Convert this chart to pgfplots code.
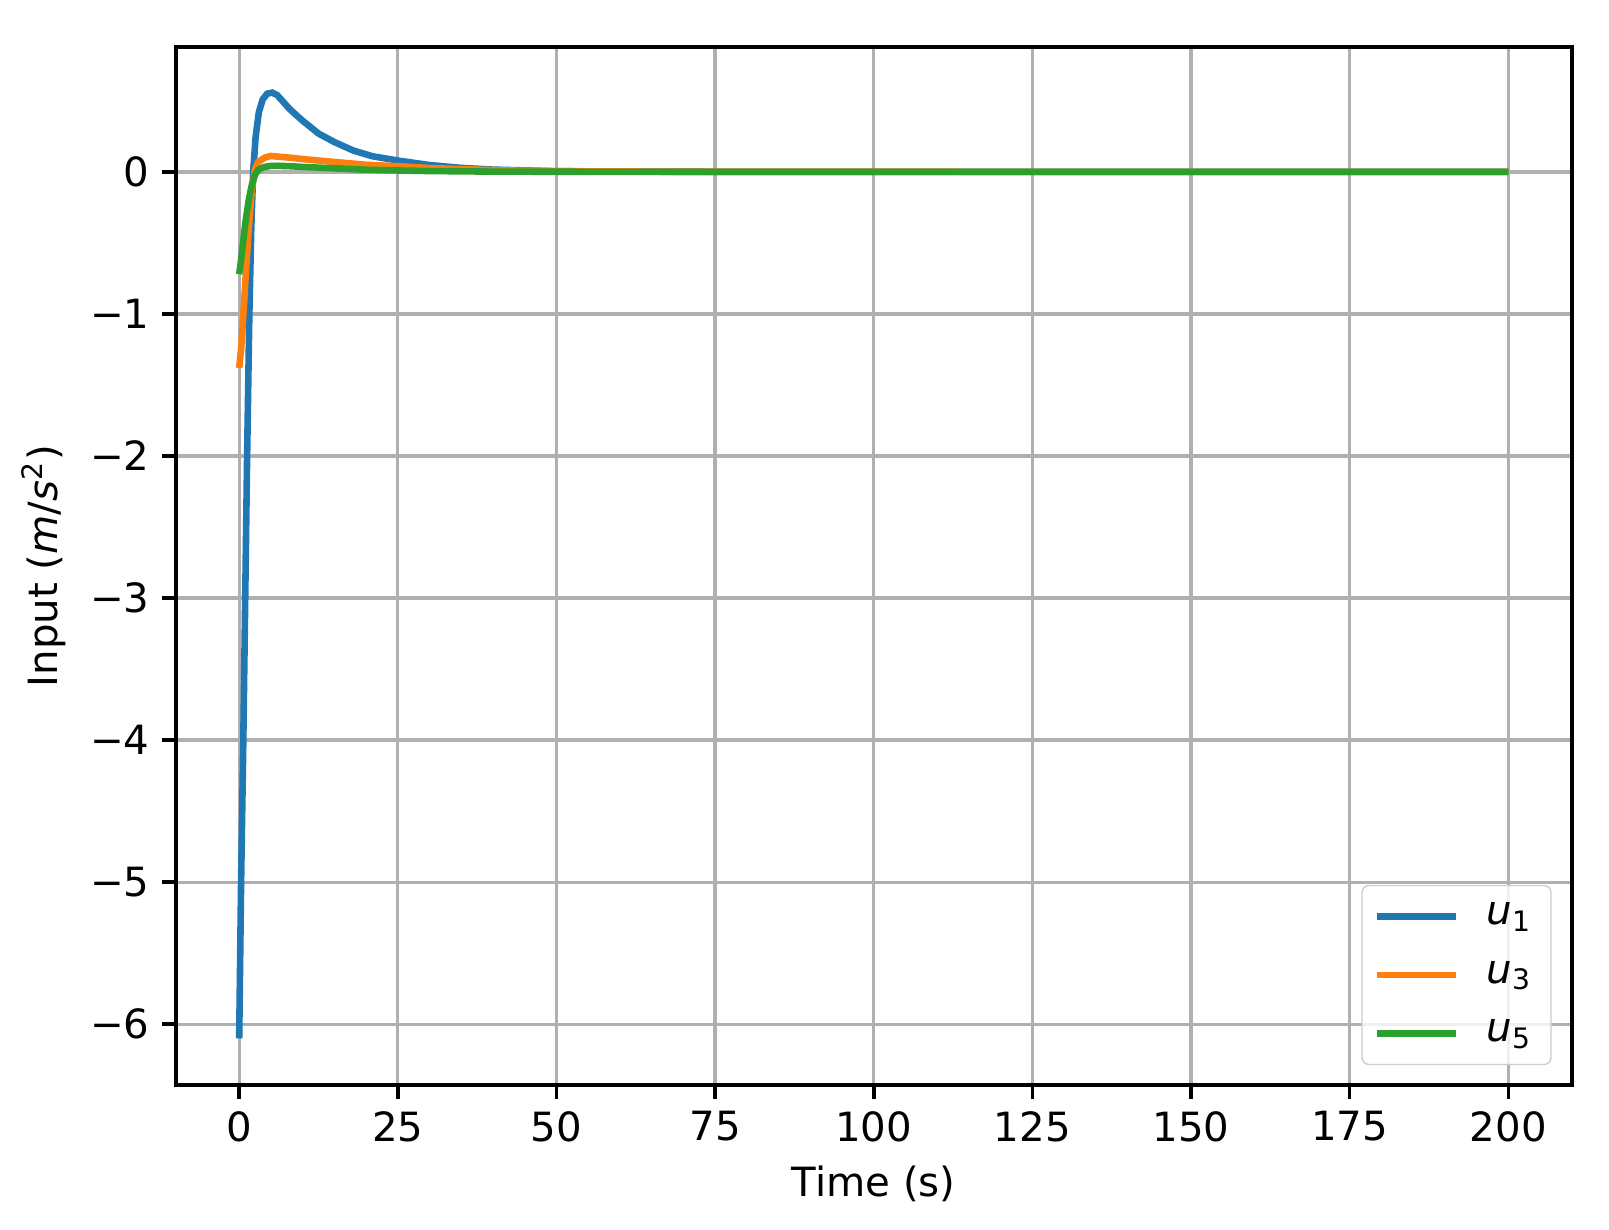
\documentclass[border=0pt]{standalone}
\usepackage{pgfplots}
\pgfplotsset{compat=1.18}
\usetikzlibrary{calc}
\usepackage{fontspec}
\setmainfont{DejaVu Sans}

\definecolor{c0}{HTML}{1F77B4}
\definecolor{c1}{HTML}{FF7F0E}
\definecolor{c2}{HTML}{2CA02C}
\definecolor{gridgray}{HTML}{B0B0B0}

\begin{document}
\begin{tikzpicture}
\begin{axis}[
    scale only axis,
    width=402pt,
    height=299pt,
    xmin=-10, xmax=210,
    ymin=-6.43, ymax=0.88,
    xtick={0,25,...,200},
    ytick={-6,-5,-4,-3,-2,-1,0},
    yticklabels={−6,−5,−4,−3,−2,−1,0},
    /pgf/number format/assume math mode=true,
    tick align=outside,
    tick pos=left,
    major tick length=4pt,
    tick style={black, line width=1pt},
    axis line style={line width=1.2pt},
    grid=major,
    major grid style={gridgray, line width=0.95pt},
    tick label style={font=\fontsize{11.6}{14}\selectfont},
    label style={font=\fontsize{11.6}{14}\selectfont},
    xlabel={Time (s)},
    ylabel={Input (\textit{m}/\textit{s}\textsuperscript{2})},
    legend cell align=left,
    legend style={
        at={(1,0)}, anchor=south east,
        xshift=-5.8pt, yshift=5.8pt,
        draw=black!20, rounded corners=2pt,
        fill=white, fill opacity=0.8, text opacity=1,
        font=\fontsize{11.6}{14}\selectfont,
        row sep=5pt, column sep=6pt,
        inner xsep=3.5pt, inner ysep=3pt
    },
    legend image code/.code={\draw[#1] (0pt,0pt) -- (22.5pt,0pt);},
]

% u1
\addplot[c0, line width=1.9pt] coordinates {
    (0,-6.1) (0.3,-5.0) (0.65,-4.0) (0.95,-3.0) (1.25,-2.0) (1.6,-1.0)
    (1.9,-0.4) (2.2,0) (2.6,0.25) (3.1,0.42) (3.7,0.51) (4.4,0.55)
    (5.2,0.558) (6,0.54) (7,0.49) (8,0.44) (10,0.36) (12.5,0.27)
    (15,0.21) (18,0.15) (21,0.11) (25,0.08) (30,0.048) (35,0.028)
    (40,0.016) (50,0.005) (60,0.002) (80,0) (200,0)
};
% u3
\addplot[c1, line width=1.9pt] coordinates {
    (0,-1.38) (0.3,-1.25) (0.6,-1.05) (1.0,-0.75) (1.5,-0.4) (2.0,-0.12)
    (2.5,0.02) (3,0.07) (4,0.1) (5,0.112) (6,0.108) (8,0.1) (10,0.09)
    (15,0.07) (20,0.05) (25,0.04) (30,0.027) (40,0.012) (50,0.005)
    (70,0.001) (200,0)
};
% u5
\addplot[c2, line width=1.9pt] coordinates {
    (0,-0.72) (0.3,-0.62) (0.6,-0.5) (1.0,-0.35) (1.5,-0.2) (2.0,-0.09)
    (2.5,-0.02) (3,0.015) (4,0.035) (5,0.042) (6,0.043) (8,0.04)
    (10,0.035) (15,0.025) (20,0.015) (25,0.01) (30,0.006) (40,0.002)
    (60,0) (200,0)
};

\legend{\textit{u}\textsubscript{1}, \textit{u}\textsubscript{3}, \textit{u}\textsubscript{5}}
\end{axis}
\useasboundingbox ($(current axis.south west)+(-50.6pt,-41.6pt)$) rectangle ($(current axis.north east)+(10.7pt,13.5pt)$);
\end{tikzpicture}
\end{document}
